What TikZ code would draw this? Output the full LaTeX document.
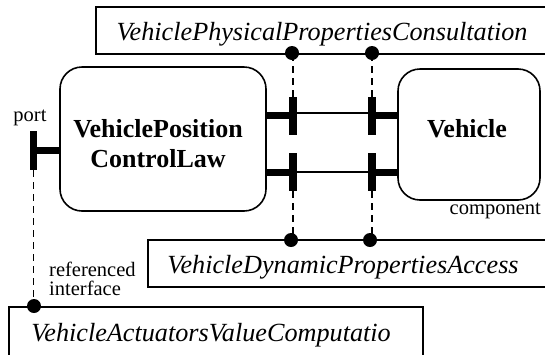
\documentclass[tikz,border=0pt]{standalone}
\usepackage{fontspec}
\setmainfont{Liberation Serif}
\begin{document}
\begin{tikzpicture}[x=1pt,y=-1pt,
  comp/.style={draw,line width=1.6pt,rounded corners=22pt,inner sep=0pt},
  iface/.style={draw,line width=1.8pt,inner sep=0pt},
  portbar/.style={fill=black,inner sep=0pt,minimum width=8pt,minimum height=38pt},
  stub/.style={line width=7pt},
  wire/.style={line width=1.4pt},
  refline/.style={line width=1.8pt,dash pattern=on 7pt off 5pt},
  dot/.style={circle,fill=black,inner sep=0pt,minimum size=14pt},
  bigname/.style={font=\fontsize{26}{30}\selectfont\bfseries,anchor=base,inner sep=0pt},
  ifname/.style={font=\fontsize{26.2}{30}\selectfont\itshape,anchor=base,inner sep=0pt},
  note/.style={font=\fontsize{20.5}{24}\selectfont,anchor=base,inner sep=0pt}]
\useasboundingbox (0,0) rectangle (545,354);
\clip (0,0) rectangle (545,354);

% interface boxes
\node[iface,minimum width=452pt,minimum height=47pt] (phys) at (322,30.5) {};
\node[iface,minimum width=410pt,minimum height=47pt] (dyn) at (353,263.5) {};
\node[iface,minimum width=414pt,minimum height=54pt] (act) at (216,334) {};
\node[ifname] (physT) at (322,40) {VehiclePhysicalPropertiesConsultation};
\node[ifname] (dynT) at (343,273) {VehicleDynamicPropertiesAccess};
\node[ifname] (actT) at (211,341) {VehicleActuatorsValueComputatio};

% components
\node[comp,minimum width=206pt,minimum height=144pt] (ctrl) at (163,139) {};
\node[comp,minimum width=142pt,minimum height=131pt] (veh) at (469,134.5) {};
\node[bigname] (ctrlT1) at (158,137) {VehiclePosition};
\node[bigname] (ctrlT2) at (158,167) {ControlLaw};
\node[bigname] (vehT) at (467,137) {Vehicle};

% ports
\node[portbar,minimum width=7pt,minimum height=39pt] (pL) at (33.5,150.5) {};
\node[portbar] (p1) at (293,116) {};
\node[portbar] (p2) at (372,116) {};
\node[portbar] (p3) at (293,172) {};
\node[portbar] (p4) at (372,172) {};

% port stubs and connectors
\draw[stub] (pL.center) -- (pL.center -| ctrl.west);
\draw[stub] (p1.center) ++(0,-1) -- (ctrl.east |- 0,115);
\draw[stub] (p2.center) ++(0,-1) -- (veh.west |- 0,115);
\draw[stub] (p3.center) -- (p3.center -| ctrl.east);
\draw[stub] (p4.center) -- (p4.center -| veh.west);
\draw[wire] (p1.east |- 0,113) -- (p2.west |- 0,113);
\draw[wire] (p3.east) -- (p4.west);

% interface attachment points
\node[dot] (d1) at (292,53) {};
\node[dot] (d2) at (372,53) {};
\node[dot] (d3) at (291,240) {};
\node[dot] (d4) at (370,240) {};
\node[dot] (d5) at (34,306) {};
\draw[refline] (p1.north) -- (p1.north |- d1.center);
\draw[refline] (p2.north) -- (p2.north |- d2.center);
\draw[refline] (p3.south) -- (p3.south |- d3.center);
\draw[refline] (p4.south) -- (p4.south |- d4.center);
\draw[refline] (pL.south) -- (pL.south |- d5.center);

% annotations
\node[note] (portL) at (30,121) {port};
\node[note,anchor=base west] (refL1) at (49,276) {referenced};
\node[note,anchor=base west] (refL2) at (49,295) {interface};
\node[note,anchor=base east] (compL) at (541,214) {component};
\end{tikzpicture}
\end{document}
